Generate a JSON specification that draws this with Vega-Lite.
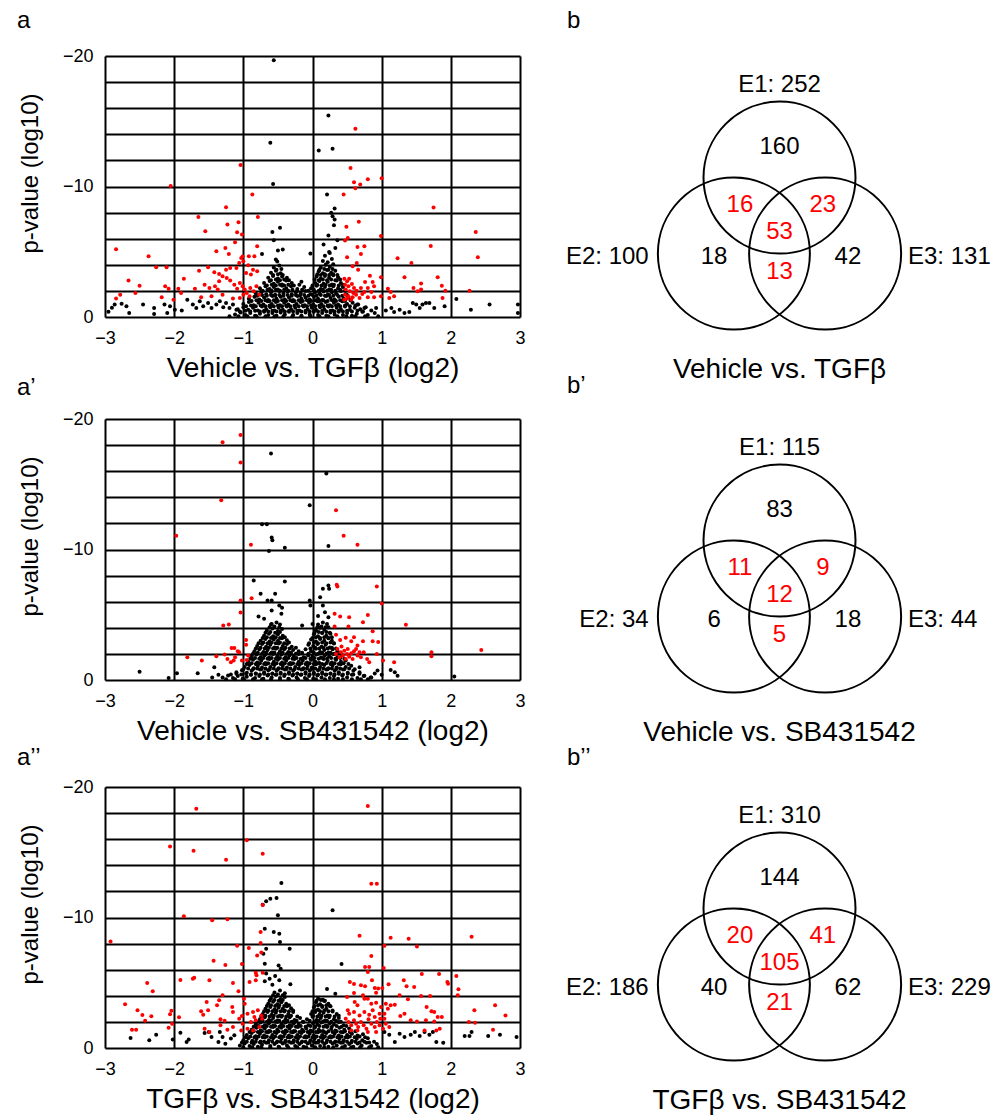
{
"$schema": "https://vega.github.io/schema/vega-lite/v6.json",
"padding": {"left": 17, "top": 9, "right": 0, "bottom": 0},
"autosize": {"type": "pad"},
"config": {
  "font": "Liberation Sans",
  "view": {"stroke": null},
  "axis": {"grid": true, "gridColor": "#000000", "gridWidth": 2, "gridOpacity": 1, "domain": false, "ticks": false, "labelFontSize": 18, "labelColor": "#000000", "titleColor": "#000000", "titleFontWeight": "normal", "labelFlush": false, "labelOverlap": false},
  "title": {"fontSize": 24, "fontWeight": "normal", "anchor": "start", "color": "#000000"}
},
"datasets": {
"venn_circles": [{"x": 0, "y": 0.5, "set": "E1"}, {"x": -0.6, "y": -0.5, "set": "E2"}, {"x": 0.6, "y": -0.5, "set": "E3"}],
"b_labels": [
{"label":"E1: 252","x":0,"y":1.724,"role":"set_top"},
{"label":"160","x":0,"y":0.908,"role":"unique"},
{"label":"16","x":-0.52,"y":0.145,"role":"shared"},
{"label":"23","x":0.57,"y":0.145,"role":"shared"},
{"label":"53","x":0,"y":-0.211,"role":"shared"},
{"label":"18","x":-0.86,"y":-0.539,"role":"unique"},
{"label":"42","x":0.9,"y":-0.539,"role":"unique"},
{"label":"13","x":0,"y":-0.737,"role":"shared"},
{"label":"E2: 100","x":-1.72,"y":-0.539,"role":"set_left"},
{"label":"E3: 131","x":1.69,"y":-0.539,"role":"set_right"},
{"label":"Vehicle vs. TGFβ","x":0,"y":-2.026,"role":"title"}],
"b2_labels": [
{"label":"E1: 115","x":0,"y":1.724,"role":"set_top"},
{"label":"83","x":0,"y":0.908,"role":"unique"},
{"label":"11","x":-0.52,"y":0.145,"role":"shared"},
{"label":"9","x":0.57,"y":0.145,"role":"shared"},
{"label":"12","x":0,"y":-0.211,"role":"shared"},
{"label":"6","x":-0.86,"y":-0.539,"role":"unique"},
{"label":"18","x":0.9,"y":-0.539,"role":"unique"},
{"label":"5","x":0,"y":-0.737,"role":"shared"},
{"label":"E2: 34","x":-1.72,"y":-0.539,"role":"set_left"},
{"label":"E3: 44","x":1.69,"y":-0.539,"role":"set_right"},
{"label":"Vehicle vs. SB431542","x":0,"y":-2.026,"role":"title"}],
"b3_labels": [
{"label":"E1: 310","x":0,"y":1.724,"role":"set_top"},
{"label":"144","x":0,"y":0.908,"role":"unique"},
{"label":"20","x":-0.52,"y":0.145,"role":"shared"},
{"label":"41","x":0.57,"y":0.145,"role":"shared"},
{"label":"105","x":0,"y":-0.211,"role":"shared"},
{"label":"40","x":-0.86,"y":-0.539,"role":"unique"},
{"label":"62","x":0.9,"y":-0.539,"role":"unique"},
{"label":"21","x":0,"y":-0.737,"role":"shared"},
{"label":"E2: 186","x":-1.72,"y":-0.539,"role":"set_left"},
{"label":"E3: 229","x":1.69,"y":-0.539,"role":"set_right"},
{"label":"TGFβ vs. SB431542","x":0,"y":-2.026,"role":"title"}],
"a_ns": [
{"x":-0.56,"y":-19.67},{"x":-0.61,"y":-13.35},{"x":-0.57,"y":-10.2},{"x":-0.58,"y":-6.52},{"x":-0.47,"y":-6.83},{"x":-0.56,"y":-5.88},{"x":-0.73,"y":-4.83},{"x":-0.5,"y":-5.09},{"x":-0.43,"y":-5.17},{"x":-0.53,"y":-4.4},{"x":-0.03,"y":-4.86},
{"x":-2.95,"y":-0.4},{"x":-2.9,"y":-0.7},{"x":-2.86,"y":-0.95},{"x":-2.76,"y":-1.02},{"x":-2.69,"y":-0.82},{"x":-2.65,"y":-0.31},{"x":-2.45,"y":-0.95},{"x":-2.29,"y":-0.69},{"x":-2.29,"y":-0.23},{"x":-2.14,"y":-0.95},{"x":-2.06,"y":-0.82},{"x":-2.1,"y":-0.3},{"x":-1.99,"y":-0.56},{"x":-1.89,"y":-0.49},{"x":-1.81,"y":-1.33},{"x":-1.73,"y":-0.95},{"x":-1.68,"y":-0.69},{"x":-1.63,"y":-1.2},{"x":-1.58,"y":-0.82},{"x":-1.51,"y":-1.07},{"x":-1.46,"y":-0.69},{"x":-1.39,"y":-0.95},{"x":-1.34,"y":-1.2},{"x":-1.29,"y":-0.74},{"x":-1.25,"y":-1.07},{"x":-1.2,"y":-0.69},{"x":-1.15,"y":-0.95},{"x":-1.1,"y":-0.56},
{"x":0.23,"y":-15.45},{"x":0.09,"y":-12.76},{"x":0.29,"y":-12.89},{"x":0.21,"y":-9.39},{"x":0.32,"y":-8.31},{"x":0.27,"y":-7.98},{"x":0.29,"y":-7.72},{"x":0.32,"y":-7.47},{"x":0.31,"y":-7.03},{"x":0.23,"y":-6.24},{"x":0.16,"y":-5.55},{"x":0.24,"y":-4.99},{"x":0.33,"y":-5.29},{"x":0.36,"y":-5.88},
{"x":0.65,"y":-0.95},{"x":0.75,"y":-0.69},{"x":0.85,"y":-0.49},{"x":0.92,"y":-0.69},{"x":1.06,"y":-0.49},{"x":1.14,"y":-0.69},{"x":1.18,"y":-0.38},{"x":1.26,"y":-0.56},{"x":1.33,"y":-0.31},{"x":1.4,"y":-0.38},{"x":1.45,"y":-1.07},{"x":1.5,"y":-0.95},{"x":1.55,"y":-0.69},{"x":1.59,"y":-0.95},{"x":1.64,"y":-1.07},{"x":1.69,"y":-1.07},{"x":1.76,"y":-0.69},{"x":1.91,"y":-0.82},{"x":2.08,"y":-1.38},{"x":2.29,"y":-0.56},{"x":2.56,"y":-0.95},{"x":2.97,"y":-0.95},{"x":2.97,"y":-0.31},
{"x":-1.12,"y":-0.2},{"x":-1.04,"y":-0.35},{"x":-0.97,"y":-0.15},{"x":-0.9,"y":-0.3},{"x":-0.83,"y":-0.1},{"x":-0.76,"y":-0.25},{"x":-0.7,"y":-0.4},{"x":-0.64,"y":-0.15},{"x":-0.58,"y":-0.3},{"x":-0.52,"y":-0.1},{"x":-0.46,"y":-0.35},{"x":-0.4,"y":-0.2},{"x":-0.34,"y":-0.4},{"x":-0.28,"y":-0.15},{"x":-0.22,"y":-0.3},{"x":-0.16,"y":-0.1},{"x":-0.1,"y":-0.35},{"x":-0.04,"y":-0.2},{"x":0.02,"y":-0.4},{"x":0.08,"y":-0.15},{"x":0.14,"y":-0.3},{"x":0.2,"y":-0.1},{"x":0.26,"y":-0.35},{"x":0.32,"y":-0.2},{"x":0.38,"y":-0.4},{"x":0.44,"y":-0.15},{"x":0.5,"y":-0.3},{"x":0.57,"y":-0.1},{"x":0.64,"y":-0.25},{"x":0.72,"y":-0.4},{"x":0.8,"y":-0.15},{"x":0.9,"y":-0.3},
{"x":-1.08,"y":-0.6},{"x":-1.0,"y":-0.75},{"x":-0.93,"y":-0.55},{"x":-0.86,"y":-0.7},{"x":-0.79,"y":-0.5},{"x":-0.73,"y":-0.8},{"x":-0.67,"y":-0.6},{"x":-0.61,"y":-0.75},{"x":-0.55,"y":-0.5},{"x":-0.49,"y":-0.7},{"x":-0.43,"y":-0.55},{"x":-0.37,"y":-0.8},{"x":-0.31,"y":-0.6},{"x":-0.25,"y":-0.7},{"x":-0.19,"y":-0.5},{"x":-0.13,"y":-0.8},{"x":-0.07,"y":-0.6},{"x":-0.01,"y":-0.7},{"x":0.05,"y":-0.55},{"x":0.11,"y":-0.75},{"x":0.17,"y":-0.6},{"x":0.23,"y":-0.8},{"x":0.29,"y":-0.5},{"x":0.35,"y":-0.7},{"x":0.41,"y":-0.6},{"x":0.47,"y":-0.8},{"x":0.54,"y":-0.55},{"x":0.61,"y":-0.7},{"x":0.69,"y":-0.6},{"x":0.77,"y":-0.75},
{"x":-1.0,"y":-1.0},{"x":-0.92,"y":-1.15},{"x":-0.85,"y":-0.9},{"x":-0.78,"y":-1.1},{"x":-0.71,"y":-0.95},{"x":-0.65,"y":-1.2},{"x":-0.59,"y":-1.0},{"x":-0.53,"y":-1.15},{"x":-0.47,"y":-0.9},{"x":-0.41,"y":-1.1},{"x":-0.35,"y":-0.95},{"x":-0.29,"y":-1.2},{"x":-0.23,"y":-1.0},{"x":-0.17,"y":-1.15},{"x":-0.11,"y":-0.9},{"x":-0.05,"y":-1.1},{"x":0.01,"y":-0.95},{"x":0.07,"y":-1.2},{"x":0.13,"y":-1.0},{"x":0.19,"y":-1.15},{"x":0.25,"y":-0.9},{"x":0.31,"y":-1.1},{"x":0.37,"y":-0.95},{"x":0.43,"y":-1.2},{"x":0.5,"y":-1.0},{"x":0.58,"y":-1.1},{"x":0.66,"y":-0.95},
{"x":-0.92,"y":-1.4},{"x":-0.84,"y":-1.55},{"x":-0.77,"y":-1.35},{"x":-0.7,"y":-1.5},{"x":-0.64,"y":-1.3},{"x":-0.58,"y":-1.6},{"x":-0.52,"y":-1.4},{"x":-0.46,"y":-1.55},{"x":-0.4,"y":-1.35},{"x":-0.34,"y":-1.5},{"x":-0.28,"y":-1.3},{"x":-0.22,"y":-1.6},{"x":-0.16,"y":-1.4},{"x":-0.1,"y":-1.5},{"x":-0.04,"y":-1.35},{"x":0.02,"y":-1.55},{"x":0.08,"y":-1.4},{"x":0.14,"y":-1.3},{"x":0.2,"y":-1.6},{"x":0.26,"y":-1.45},{"x":0.32,"y":-1.35},{"x":0.38,"y":-1.55},{"x":0.45,"y":-1.4},{"x":0.52,"y":-1.5},
{"x":-0.82,"y":-1.8},{"x":-0.74,"y":-1.95},{"x":-0.67,"y":-1.75},{"x":-0.6,"y":-1.9},{"x":-0.54,"y":-1.7},{"x":-0.48,"y":-2.0},{"x":-0.42,"y":-1.8},{"x":-0.36,"y":-1.95},{"x":-0.3,"y":-1.75},{"x":-0.24,"y":-1.9},{"x":-0.17,"y":-1.8},{"x":-0.1,"y":-2.0},{"x":-0.03,"y":-1.75},{"x":0.04,"y":-1.9},{"x":0.1,"y":-1.8},{"x":0.16,"y":-1.95},{"x":0.22,"y":-1.7},{"x":0.28,"y":-1.9},{"x":0.34,"y":-1.8},{"x":0.41,"y":-2.0},{"x":0.48,"y":-1.75},
{"x":-0.76,"y":-2.2},{"x":-0.68,"y":-2.35},{"x":-0.62,"y":-2.15},{"x":-0.56,"y":-2.3},{"x":-0.5,"y":-2.1},{"x":-0.44,"y":-2.4},{"x":-0.38,"y":-2.2},{"x":-0.31,"y":-2.35},{"x":-0.22,"y":-2.15},{"x":-0.12,"y":-2.3},{"x":-0.02,"y":-2.2},{"x":0.06,"y":-2.4},{"x":0.12,"y":-2.15},{"x":0.18,"y":-2.3},{"x":0.24,"y":-2.1},{"x":0.3,"y":-2.35},{"x":0.37,"y":-2.2},{"x":0.44,"y":-2.3},
{"x":-0.7,"y":-2.6},{"x":-0.62,"y":-2.75},{"x":-0.56,"y":-2.55},{"x":-0.5,"y":-2.7},{"x":-0.44,"y":-2.5},{"x":-0.38,"y":-2.8},{"x":-0.3,"y":-2.6},{"x":-0.16,"y":-2.7},{"x":0.04,"y":-2.6},{"x":0.1,"y":-2.75},{"x":0.16,"y":-2.55},{"x":0.22,"y":-2.7},{"x":0.28,"y":-2.5},{"x":0.35,"y":-2.8},{"x":0.41,"y":-2.6},
{"x":-0.64,"y":-3.0},{"x":-0.57,"y":-3.15},{"x":-0.5,"y":-2.95},{"x":-0.44,"y":-3.1},{"x":-0.37,"y":-3.0},{"x":0.06,"y":-3.1},{"x":0.12,"y":-2.95},{"x":0.18,"y":-3.15},{"x":0.24,"y":-3.0},{"x":0.3,"y":-3.2},{"x":0.37,"y":-3.05},
{"x":-0.6,"y":-3.4},{"x":-0.53,"y":-3.55},{"x":-0.46,"y":-3.35},{"x":0.09,"y":-3.5},{"x":0.15,"y":-3.35},{"x":0.21,"y":-3.6},{"x":0.27,"y":-3.4},{"x":0.33,"y":-3.55},
{"x":-0.56,"y":-3.8},{"x":-0.48,"y":-3.95},{"x":0.12,"y":-3.8},{"x":0.19,"y":-4.0},{"x":0.25,"y":-3.85},{"x":0.3,"y":-4.05},
{"x":-0.51,"y":-4.25},{"x":0.15,"y":-4.3},{"x":0.22,"y":-4.2},{"x":0.28,"y":-4.45},{"x":0.18,"y":-4.7},{"x":0.25,"y":-4.9},
{"x":-1.2,"y":-0.05},{"x":-1.07,"y":-0.05},{"x":-0.94,"y":-0.05},{"x":-0.81,"y":-0.05},{"x":-0.68,"y":-0.05},{"x":-0.55,"y":-0.05},{"x":-0.42,"y":-0.05},{"x":-0.29,"y":-0.05},{"x":-0.16,"y":-0.05},{"x":-0.03,"y":-0.05},{"x":0.1,"y":-0.05},{"x":0.23,"y":-0.05},{"x":0.36,"y":-0.05},{"x":0.49,"y":-0.05},{"x":0.62,"y":-0.05},{"x":0.76,"y":-0.05},{"x":0.95,"y":-0.05},
{"x":-1.05,"y":-0.42},{"x":-0.97,"y":-0.48},{"x":-0.9,"y":-0.42},{"x":-0.83,"y":-0.48},{"x":-0.76,"y":-0.42},{"x":-0.7,"y":-0.48},{"x":-0.64,"y":-0.42},{"x":-0.58,"y":-0.48},{"x":-0.52,"y":-0.42},{"x":-0.46,"y":-0.48},{"x":-0.4,"y":-0.42},{"x":-0.34,"y":-0.48},{"x":-0.28,"y":-0.42},{"x":-0.22,"y":-0.48},{"x":-0.16,"y":-0.42},{"x":-0.1,"y":-0.48},{"x":-0.04,"y":-0.42},{"x":0.02,"y":-0.48},{"x":0.08,"y":-0.42},{"x":0.14,"y":-0.48},{"x":0.2,"y":-0.42},{"x":0.26,"y":-0.48},{"x":0.32,"y":-0.42},{"x":0.38,"y":-0.48},{"x":0.44,"y":-0.42},{"x":0.5,"y":-0.48},{"x":0.57,"y":-0.42},{"x":0.65,"y":-0.48},{"x":0.73,"y":-0.42},
{"x":-0.96,"y":-0.82},{"x":-0.89,"y":-0.88},{"x":-0.82,"y":-0.82},{"x":-0.75,"y":-0.88},{"x":-0.68,"y":-0.82},{"x":-0.62,"y":-0.88},{"x":-0.56,"y":-0.82},{"x":-0.5,"y":-0.88},{"x":-0.44,"y":-0.82},{"x":-0.38,"y":-0.88},{"x":-0.32,"y":-0.82},{"x":-0.26,"y":-0.88},{"x":-0.2,"y":-0.82},{"x":-0.14,"y":-0.88},{"x":-0.08,"y":-0.82},{"x":-0.02,"y":-0.88},{"x":0.04,"y":-0.82},{"x":0.1,"y":-0.88},{"x":0.16,"y":-0.82},{"x":0.22,"y":-0.88},{"x":0.28,"y":-0.82},{"x":0.34,"y":-0.88},{"x":0.4,"y":-0.82},{"x":0.47,"y":-0.88},{"x":0.54,"y":-0.82},{"x":0.62,"y":-0.88},
{"x":-0.88,"y":-1.22},{"x":-0.81,"y":-1.28},{"x":-0.74,"y":-1.22},{"x":-0.68,"y":-1.28},{"x":-0.62,"y":-1.22},{"x":-0.56,"y":-1.28},{"x":-0.5,"y":-1.22},{"x":-0.44,"y":-1.28},{"x":-0.38,"y":-1.22},{"x":-0.32,"y":-1.28},{"x":-0.26,"y":-1.22},{"x":-0.2,"y":-1.28},{"x":-0.14,"y":-1.22},{"x":-0.08,"y":-1.28},{"x":-0.02,"y":-1.22},{"x":0.04,"y":-1.28},{"x":0.1,"y":-1.22},{"x":0.16,"y":-1.28},{"x":0.22,"y":-1.22},{"x":0.28,"y":-1.28},{"x":0.34,"y":-1.22},{"x":0.4,"y":-1.28},{"x":0.47,"y":-1.22},{"x":0.55,"y":-1.28},
{"x":-0.8,"y":-1.62},{"x":-0.73,"y":-1.68},{"x":-0.66,"y":-1.62},{"x":-0.6,"y":-1.68},{"x":-0.54,"y":-1.62},{"x":-0.48,"y":-1.68},{"x":-0.42,"y":-1.62},{"x":-0.36,"y":-1.68},{"x":-0.3,"y":-1.62},{"x":-0.24,"y":-1.68},{"x":-0.18,"y":-1.62},{"x":-0.12,"y":-1.68},{"x":-0.06,"y":-1.62},{"x":0.0,"y":-1.68},{"x":0.06,"y":-1.62},{"x":0.12,"y":-1.68},{"x":0.18,"y":-1.62},{"x":0.24,"y":-1.68},{"x":0.3,"y":-1.62},{"x":0.36,"y":-1.68},{"x":0.43,"y":-1.62},{"x":0.5,"y":-1.68},
{"x":-0.72,"y":-2.02},{"x":-0.65,"y":-2.08},{"x":-0.59,"y":-2.02},{"x":-0.53,"y":-2.08},{"x":-0.47,"y":-2.02},{"x":-0.41,"y":-2.08},{"x":-0.35,"y":-2.02},{"x":-0.29,"y":-2.08},{"x":-0.22,"y":-2.02},{"x":-0.15,"y":-2.08},{"x":-0.06,"y":-2.02},{"x":0.02,"y":-2.08},{"x":0.09,"y":-2.02},{"x":0.15,"y":-2.08},{"x":0.21,"y":-2.02},{"x":0.27,"y":-2.08},{"x":0.33,"y":-2.02},{"x":0.4,"y":-2.08},{"x":0.47,"y":-2.02},
{"x":-0.66,"y":-2.42},{"x":-0.59,"y":-2.48},{"x":-0.53,"y":-2.42},{"x":-0.47,"y":-2.48},{"x":-0.41,"y":-2.42},{"x":-0.35,"y":-2.48},{"x":-0.27,"y":-2.42},{"x":-0.19,"y":-2.48},{"x":0.0,"y":-2.42},{"x":0.07,"y":-2.48},{"x":0.13,"y":-2.42},{"x":0.19,"y":-2.48},{"x":0.25,"y":-2.42},{"x":0.31,"y":-2.48},{"x":0.38,"y":-2.42},{"x":0.44,"y":-2.48},
{"x":-0.6,"y":-2.82},{"x":-0.53,"y":-2.88},{"x":-0.47,"y":-2.82},{"x":-0.41,"y":-2.88},{"x":-0.34,"y":-2.82},{"x":0.03,"y":-2.88},{"x":0.09,"y":-2.82},{"x":0.15,"y":-2.88},{"x":0.21,"y":-2.82},{"x":0.27,"y":-2.88},{"x":0.33,"y":-2.82},{"x":0.4,"y":-2.88},
{"x":-0.57,"y":-3.22},{"x":-0.5,"y":-3.28},{"x":-0.43,"y":-3.22},{"x":0.07,"y":-3.28},{"x":0.12,"y":-3.22},{"x":0.18,"y":-3.28},{"x":0.24,"y":-3.22},{"x":0.3,"y":-3.28},{"x":0.36,"y":-3.22},
{"x":-0.52,"y":-3.62},{"x":-0.45,"y":-3.68},{"x":0.1,"y":-3.62},{"x":0.17,"y":-3.68},{"x":0.23,"y":-3.62},{"x":0.29,"y":-3.68}
],
"a_sig": [
{"x":-1.04,"y":-11.64},{"x":-2.05,"y":-10.03},{"x":-0.87,"y":-9.39},{"x":-1.25,"y":-8.41},{"x":-1.65,"y":-7.67},{"x":-0.79,"y":-7.67},{"x":-1.23,"y":-7.08},{"x":-1.07,"y":-7.26},{"x":-1.55,"y":-6.57},{"x":-1.09,"y":-6.5},{"x":-1.02,"y":-6.32},{"x":-1.12,"y":-5.73},{"x":-0.8,"y":-5.42},{"x":-2.84,"y":-5.19},{"x":-2.37,"y":-4.65},{"x":-1.39,"y":-5.04},{"x":-1.26,"y":-5.29},{"x":-1.21,"y":-4.83},{"x":-1.01,"y":-4.63},{"x":-0.92,"y":-4.65},{"x":-0.84,"y":-4.65},{"x":-2.26,"y":-3.81},{"x":-2.11,"y":-3.81},{"x":-1.64,"y":-3.55},{"x":-1.51,"y":-3.81},{"x":-1.42,"y":-3.43},{"x":-1.35,"y":-3.3},{"x":-1.25,"y":-3.63},{"x":-1.19,"y":-3.76},{"x":-1.1,"y":-3.76},{"x":-1.06,"y":-4.14},{"x":-1.03,"y":-4.53},{"x":-1.0,"y":-4.27},{"x":-0.93,"y":-3.96},{"x":-0.86,"y":-3.63},{"x":-0.8,"y":-3.5},{"x":-0.96,"y":-3.38},{"x":-0.89,"y":-3.25},{"x":-2.66,"y":-2.79},{"x":-2.5,"y":-2.4},{"x":-1.86,"y":-2.94},{"x":-2.13,"y":-2.35},{"x":-2.08,"y":-2.17},{"x":-1.94,"y":-2.17},{"x":-1.9,"y":-1.84},{"x":-1.7,"y":-2.17},{"x":-1.56,"y":-2.48},{"x":-1.49,"y":-2.23},{"x":-1.41,"y":-2.35},{"x":-1.37,"y":-2.1},{"x":-1.35,"y":-2.74},{"x":-1.3,"y":-3.12},{"x":-1.24,"y":-2.99},{"x":-1.19,"y":-2.79},{"x":-1.13,"y":-2.48},{"x":-1.09,"y":-2.17},{"x":-1.05,"y":-2.61},{"x":-1.01,"y":-2.35},{"x":-0.98,"y":-2.1},{"x":-0.95,"y":-1.84},{"x":-0.9,"y":-2.23},{"x":-0.85,"y":-1.97},{"x":-0.81,"y":-2.35},{"x":-0.77,"y":-1.71},{"x":-0.91,"y":-1.59},{"x":-1.0,"y":-1.71},{"x":-1.05,"y":-1.46},{"x":-2.84,"y":-1.41},{"x":-2.78,"y":-1.71},{"x":-2.56,"y":-1.84},{"x":-2.18,"y":-1.51},{"x":-2.01,"y":-1.33},{"x":-1.61,"y":-1.51},{"x":-1.46,"y":-1.59},{"x":-1.3,"y":-1.71},{"x":-1.15,"y":-1.41},
{"x":0.62,"y":-14.42},{"x":0.55,"y":-11.41},{"x":0.8,"y":-10.56},{"x":1.0,"y":-10.64},{"x":0.6,"y":-10.33},{"x":0.69,"y":-10.15},{"x":0.62,"y":-9.87},{"x":0.45,"y":-9.39},{"x":1.75,"y":-8.39},{"x":0.67,"y":-7.29},{"x":0.49,"y":-6.91},{"x":0.51,"y":-6.06},{"x":0.47,"y":-5.86},{"x":0.99,"y":-6.21},{"x":2.36,"y":-6.52},{"x":0.65,"y":-5.37},{"x":0.75,"y":-5.42},{"x":0.7,"y":-4.83},{"x":1.71,"y":-5.45},{"x":2.39,"y":-4.58},{"x":0.5,"y":-4.58},{"x":1.23,"y":-4.5},{"x":1.43,"y":-4.14},{"x":0.58,"y":-3.89},{"x":0.64,"y":-4.14},{"x":0.66,"y":-3.63},{"x":0.83,"y":-3.17},{"x":0.99,"y":-3.04},{"x":1.33,"y":-3.04},{"x":1.81,"y":-3.04},{"x":1.57,"y":-2.56},{"x":1.46,"y":-2.23},{"x":1.57,"y":-2.1},{"x":1.87,"y":-2.4},{"x":1.92,"y":-2.02},{"x":2.27,"y":-2.02},{"x":0.76,"y":-2.69},{"x":0.87,"y":-2.69},{"x":0.89,"y":-2.35},{"x":0.8,"y":-2.23},{"x":0.85,"y":-1.92},{"x":1.09,"y":-2.17},{"x":1.13,"y":-1.92},{"x":1.18,"y":-1.59},{"x":1.11,"y":-1.46},{"x":1.52,"y":-1.97},{"x":1.88,"y":-1.46},{"x":0.99,"y":-1.59},{"x":0.89,"y":-1.51},
{"x":0.46,"y":-2.94},{"x":0.5,"y":-2.74},{"x":0.53,"y":-2.94},{"x":0.47,"y":-2.48},{"x":0.52,"y":-2.35},{"x":0.57,"y":-2.53},{"x":0.6,"y":-2.23},{"x":0.48,"y":-2.1},{"x":0.54,"y":-1.97},{"x":0.59,"y":-1.84},{"x":0.64,"y":-2.02},{"x":0.47,"y":-1.71},{"x":0.52,"y":-1.59},{"x":0.58,"y":-1.51},{"x":0.63,"y":-1.71},{"x":0.68,"y":-1.46},{"x":0.72,"y":-1.76},{"x":0.5,"y":-1.41},{"x":0.56,"y":-1.33},{"x":0.7,"y":-2.23},{"x":0.75,"y":-1.92},{"x":0.46,"y":-1.33},{"x":0.8,"y":-1.51}
],
"a2_ns": [
{"x":-0.6,"y":-17.36},{"x":-0.04,"y":-13.39},{"x":-0.73,"y":-11.93},{"x":-0.66,"y":-11.93},{"x":-0.59,"y":-10.91},{"x":-0.58,"y":-10.7},{"x":-0.63,"y":-9.88},{"x":-0.4,"y":-10.14},{"x":-0.85,"y":-7.63},{"x":-0.4,"y":-7.55},{"x":-0.75,"y":-6.61},{"x":-0.54,"y":-6.61},{"x":-0.65,"y":-6.09},{"x":-0.59,"y":-6.09},{"x":-0.48,"y":-5.71},{"x":-0.44,"y":-5.53},{"x":-0.59,"y":-5.33},{"x":-0.45,"y":-5.07},{"x":-0.78,"y":-4.87},{"x":-0.7,"y":-4.69},{"x":-0.59,"y":-4.3},{"x":-0.47,"y":-4.25},{"x":-0.15,"y":-4.17},{"x":-0.04,"y":-6.09},{"x":-0.03,"y":-5.71},{"x":0.0,"y":-4.3},
{"x":0.2,"y":-15.83},{"x":0.23,"y":-10.27},{"x":0.15,"y":-6.99},{"x":0.23,"y":-7.25},{"x":0.24,"y":-6.99},{"x":0.11,"y":-6.35},{"x":0.15,"y":-5.71},{"x":0.18,"y":-5.2},{"x":0.23,"y":-4.81},{"x":0.08,"y":-4.9},
{"x":-2.5,"y":-0.64},{"x":-2.08,"y":-0.15},{"x":-1.96,"y":-0.51},{"x":-1.66,"y":-0.51},{"x":-1.42,"y":-0.97},{"x":-1.36,"y":-0.4},{"x":-1.45,"y":-0.2},
{"x":0.68,"y":-0.97},{"x":0.75,"y":-0.33},{"x":0.85,"y":-0.2},{"x":0.94,"y":-0.72},{"x":1.13,"y":-0.77},{"x":1.19,"y":-0.59},{"x":1.23,"y":-0.33},{"x":2.05,"y":-0.26},{"x":0.9,"y":-0.5},{"x":1.0,"y":-0.4},
{"x":-1.3,"y":-0.2},{"x":-1.22,"y":-0.35},{"x":-1.15,"y":-0.15},{"x":-1.08,"y":-0.3},{"x":-1.01,"y":-0.1},{"x":-0.95,"y":-0.25},{"x":-0.89,"y":-0.4},{"x":-0.83,"y":-0.15},{"x":-0.77,"y":-0.3},{"x":-0.71,"y":-0.1},{"x":-0.65,"y":-0.35},{"x":-0.59,"y":-0.2},{"x":-0.53,"y":-0.4},{"x":-0.47,"y":-0.15},{"x":-0.41,"y":-0.3},{"x":-0.35,"y":-0.1},{"x":-0.29,"y":-0.35},{"x":-0.23,"y":-0.2},{"x":-0.17,"y":-0.4},{"x":-0.11,"y":-0.15},{"x":-0.05,"y":-0.3},{"x":0.01,"y":-0.1},{"x":0.07,"y":-0.35},{"x":0.13,"y":-0.2},{"x":0.19,"y":-0.4},{"x":0.25,"y":-0.15},{"x":0.31,"y":-0.3},{"x":0.37,"y":-0.1},{"x":0.43,"y":-0.35},{"x":0.5,"y":-0.2},{"x":0.57,"y":-0.4},{"x":0.65,"y":-0.15},{"x":0.74,"y":-0.3},{"x":0.84,"y":-0.2},
{"x":-1.1,"y":-0.6},{"x":-1.02,"y":-0.75},{"x":-0.95,"y":-0.55},{"x":-0.88,"y":-0.7},{"x":-0.82,"y":-0.5},{"x":-0.76,"y":-0.8},{"x":-0.7,"y":-0.6},{"x":-0.64,"y":-0.75},{"x":-0.58,"y":-0.5},{"x":-0.52,"y":-0.7},{"x":-0.46,"y":-0.55},{"x":-0.4,"y":-0.8},{"x":-0.34,"y":-0.6},{"x":-0.28,"y":-0.7},{"x":-0.22,"y":-0.5},{"x":-0.16,"y":-0.8},{"x":-0.1,"y":-0.6},{"x":-0.04,"y":-0.7},{"x":0.02,"y":-0.55},{"x":0.08,"y":-0.75},{"x":0.14,"y":-0.6},{"x":0.2,"y":-0.8},{"x":0.26,"y":-0.5},{"x":0.32,"y":-0.7},{"x":0.38,"y":-0.6},{"x":0.44,"y":-0.8},{"x":0.51,"y":-0.55},{"x":0.59,"y":-0.7},{"x":0.68,"y":-0.6},
{"x":-0.98,"y":-1.0},{"x":-0.91,"y":-1.15},{"x":-0.85,"y":-0.9},{"x":-0.79,"y":-1.1},{"x":-0.73,"y":-0.95},{"x":-0.67,"y":-1.2},{"x":-0.61,"y":-1.0},{"x":-0.55,"y":-1.15},{"x":-0.49,"y":-0.9},{"x":-0.43,"y":-1.1},{"x":-0.37,"y":-0.95},{"x":-0.31,"y":-1.2},{"x":-0.25,"y":-1.0},{"x":-0.19,"y":-1.15},{"x":-0.13,"y":-0.9},{"x":-0.07,"y":-1.1},{"x":-0.01,"y":-0.95},{"x":0.05,"y":-1.2},{"x":0.11,"y":-1.0},{"x":0.17,"y":-1.15},{"x":0.23,"y":-0.9},{"x":0.29,"y":-1.1},{"x":0.35,"y":-0.95},{"x":0.41,"y":-1.2},{"x":0.48,"y":-1.0},{"x":0.56,"y":-1.1},
{"x":-0.93,"y":-1.4},{"x":-0.86,"y":-1.55},{"x":-0.8,"y":-1.35},{"x":-0.74,"y":-1.5},{"x":-0.68,"y":-1.3},{"x":-0.62,"y":-1.6},{"x":-0.56,"y":-1.4},{"x":-0.5,"y":-1.55},{"x":-0.44,"y":-1.35},{"x":-0.38,"y":-1.5},{"x":-0.32,"y":-1.3},{"x":-0.26,"y":-1.6},{"x":-0.2,"y":-1.4},{"x":-0.14,"y":-1.5},{"x":-0.08,"y":-1.35},{"x":-0.02,"y":-1.55},{"x":0.04,"y":-1.4},{"x":0.1,"y":-1.3},{"x":0.16,"y":-1.6},{"x":0.22,"y":-1.45},{"x":0.28,"y":-1.35},{"x":0.34,"y":-1.55},{"x":0.41,"y":-1.4},{"x":0.48,"y":-1.5},
{"x":-0.88,"y":-1.8},{"x":-0.81,"y":-1.95},{"x":-0.75,"y":-1.75},{"x":-0.69,"y":-1.9},{"x":-0.63,"y":-1.7},{"x":-0.57,"y":-2.0},{"x":-0.51,"y":-1.8},{"x":-0.45,"y":-1.95},{"x":-0.39,"y":-1.75},{"x":-0.33,"y":-1.9},{"x":-0.27,"y":-1.8},{"x":-0.2,"y":-2.0},{"x":-0.13,"y":-1.75},{"x":-0.06,"y":-1.9},{"x":0.0,"y":-1.8},{"x":0.06,"y":-1.95},{"x":0.12,"y":-1.7},{"x":0.18,"y":-1.9},{"x":0.24,"y":-1.8},{"x":0.3,"y":-2.0},{"x":0.36,"y":-1.75},{"x":0.43,"y":-1.9},
{"x":-0.84,"y":-2.2},{"x":-0.77,"y":-2.35},{"x":-0.71,"y":-2.15},{"x":-0.65,"y":-2.3},{"x":-0.59,"y":-2.1},{"x":-0.53,"y":-2.4},{"x":-0.47,"y":-2.2},{"x":-0.41,"y":-2.35},{"x":-0.35,"y":-2.15},{"x":-0.28,"y":-2.3},{"x":-0.2,"y":-2.2},{"x":-0.1,"y":-2.35},{"x":-0.02,"y":-2.2},{"x":0.05,"y":-2.4},{"x":0.11,"y":-2.15},{"x":0.17,"y":-2.3},{"x":0.23,"y":-2.1},{"x":0.29,"y":-2.35},{"x":0.36,"y":-2.2},
{"x":-0.8,"y":-2.6},{"x":-0.73,"y":-2.75},{"x":-0.67,"y":-2.55},{"x":-0.61,"y":-2.7},{"x":-0.55,"y":-2.5},{"x":-0.49,"y":-2.8},{"x":-0.43,"y":-2.6},{"x":-0.37,"y":-2.75},{"x":-0.3,"y":-2.55},{"x":-0.06,"y":-2.7},{"x":0.01,"y":-2.6},{"x":0.07,"y":-2.75},{"x":0.13,"y":-2.55},{"x":0.19,"y":-2.7},{"x":0.25,"y":-2.5},{"x":0.31,"y":-2.8},
{"x":-0.75,"y":-3.0},{"x":-0.68,"y":-3.15},{"x":-0.62,"y":-2.95},{"x":-0.56,"y":-3.1},{"x":-0.5,"y":-3.0},{"x":-0.44,"y":-3.2},{"x":-0.37,"y":-3.05},{"x":-0.02,"y":-3.1},{"x":0.05,"y":-2.95},{"x":0.11,"y":-3.15},{"x":0.17,"y":-3.0},{"x":0.23,"y":-3.2},{"x":0.28,"y":-3.0},
{"x":-0.7,"y":-3.4},{"x":-0.63,"y":-3.55},{"x":-0.57,"y":-3.35},{"x":-0.5,"y":-3.5},{"x":-0.43,"y":-3.4},{"x":0.02,"y":-3.5},{"x":0.08,"y":-3.35},{"x":0.14,"y":-3.6},{"x":0.2,"y":-3.4},{"x":0.26,"y":-3.55},
{"x":-0.66,"y":-3.8},{"x":-0.58,"y":-3.95},{"x":-0.5,"y":-3.75},{"x":-0.44,"y":-3.9},{"x":0.05,"y":-3.8},{"x":0.11,"y":-4.0},{"x":0.17,"y":-3.85},{"x":0.23,"y":-4.05},
{"x":-0.6,"y":-4.25},{"x":-0.52,"y":-4.4},{"x":0.08,"y":-4.25},{"x":0.15,"y":-4.4},{"x":0.21,"y":-4.3},
{"x":-1.25,"y":-0.05},{"x":-1.12,"y":-0.05},{"x":-0.99,"y":-0.05},{"x":-0.86,"y":-0.05},{"x":-0.73,"y":-0.05},{"x":-0.6,"y":-0.05},{"x":-0.47,"y":-0.05},{"x":-0.34,"y":-0.05},{"x":-0.21,"y":-0.05},{"x":-0.08,"y":-0.05},{"x":0.05,"y":-0.05},{"x":0.18,"y":-0.05},{"x":0.31,"y":-0.05},{"x":0.44,"y":-0.05},{"x":0.57,"y":-0.05},{"x":0.7,"y":-0.05},{"x":0.8,"y":-0.05},
{"x":-1.18,"y":-0.42},{"x":-1.1,"y":-0.48},{"x":-1.03,"y":-0.42},{"x":-0.96,"y":-0.48},{"x":-0.89,"y":-0.42},{"x":-0.82,"y":-0.48},{"x":-0.76,"y":-0.42},{"x":-0.7,"y":-0.48},{"x":-0.64,"y":-0.42},{"x":-0.58,"y":-0.48},{"x":-0.52,"y":-0.42},{"x":-0.46,"y":-0.48},{"x":-0.4,"y":-0.42},{"x":-0.34,"y":-0.48},{"x":-0.28,"y":-0.42},{"x":-0.22,"y":-0.48},{"x":-0.16,"y":-0.42},{"x":-0.1,"y":-0.48},{"x":-0.04,"y":-0.42},{"x":0.02,"y":-0.48},{"x":0.08,"y":-0.42},{"x":0.14,"y":-0.48},{"x":0.2,"y":-0.42},{"x":0.26,"y":-0.48},{"x":0.32,"y":-0.42},{"x":0.38,"y":-0.48},{"x":0.44,"y":-0.42},{"x":0.51,"y":-0.48},{"x":0.59,"y":-0.42},{"x":0.68,"y":-0.48},
{"x":-1.0,"y":-0.82},{"x":-0.93,"y":-0.88},{"x":-0.86,"y":-0.82},{"x":-0.8,"y":-0.88},{"x":-0.74,"y":-0.82},{"x":-0.68,"y":-0.88},{"x":-0.62,"y":-0.82},{"x":-0.56,"y":-0.88},{"x":-0.5,"y":-0.82},{"x":-0.44,"y":-0.88},{"x":-0.38,"y":-0.82},{"x":-0.32,"y":-0.88},{"x":-0.26,"y":-0.82},{"x":-0.2,"y":-0.88},{"x":-0.14,"y":-0.82},{"x":-0.08,"y":-0.88},{"x":-0.02,"y":-0.82},{"x":0.04,"y":-0.88},{"x":0.1,"y":-0.82},{"x":0.16,"y":-0.88},{"x":0.22,"y":-0.82},{"x":0.28,"y":-0.88},{"x":0.34,"y":-0.82},{"x":0.4,"y":-0.88},{"x":0.46,"y":-0.82},{"x":0.53,"y":-0.88},{"x":0.61,"y":-0.82},
{"x":-0.95,"y":-1.22},{"x":-0.88,"y":-1.28},{"x":-0.82,"y":-1.22},{"x":-0.76,"y":-1.28},{"x":-0.7,"y":-1.22},{"x":-0.64,"y":-1.28},{"x":-0.58,"y":-1.22},{"x":-0.52,"y":-1.28},{"x":-0.46,"y":-1.22},{"x":-0.4,"y":-1.28},{"x":-0.34,"y":-1.22},{"x":-0.28,"y":-1.28},{"x":-0.22,"y":-1.22},{"x":-0.16,"y":-1.28},{"x":-0.1,"y":-1.22},{"x":-0.04,"y":-1.28},{"x":0.02,"y":-1.22},{"x":0.08,"y":-1.28},{"x":0.14,"y":-1.22},{"x":0.2,"y":-1.28},{"x":0.26,"y":-1.22},{"x":0.32,"y":-1.28},{"x":0.38,"y":-1.22},{"x":0.45,"y":-1.28},{"x":0.52,"y":-1.22},
{"x":-0.9,"y":-1.62},{"x":-0.83,"y":-1.68},{"x":-0.77,"y":-1.62},{"x":-0.71,"y":-1.68},{"x":-0.65,"y":-1.62},{"x":-0.59,"y":-1.68},{"x":-0.53,"y":-1.62},{"x":-0.47,"y":-1.68},{"x":-0.41,"y":-1.62},{"x":-0.35,"y":-1.68},{"x":-0.29,"y":-1.62},{"x":-0.23,"y":-1.68},{"x":-0.17,"y":-1.62},{"x":-0.1,"y":-1.68},{"x":-0.03,"y":-1.62},{"x":0.03,"y":-1.68},{"x":0.09,"y":-1.62},{"x":0.15,"y":-1.68},{"x":0.21,"y":-1.62},{"x":0.27,"y":-1.68},{"x":0.33,"y":-1.62},{"x":0.4,"y":-1.68},{"x":0.46,"y":-1.62},
{"x":-0.86,"y":-2.02},{"x":-0.79,"y":-2.08},{"x":-0.73,"y":-2.02},{"x":-0.67,"y":-2.08},{"x":-0.61,"y":-2.02},{"x":-0.55,"y":-2.08},{"x":-0.49,"y":-2.02},{"x":-0.43,"y":-2.08},{"x":-0.37,"y":-2.02},{"x":-0.31,"y":-2.08},{"x":-0.24,"y":-2.02},{"x":-0.15,"y":-2.08},{"x":-0.06,"y":-2.02},{"x":0.02,"y":-2.08},{"x":0.08,"y":-2.02},{"x":0.14,"y":-2.08},{"x":0.2,"y":-2.02},{"x":0.26,"y":-2.08},{"x":0.32,"y":-2.02},{"x":0.39,"y":-2.08},
{"x":-0.82,"y":-2.42},{"x":-0.75,"y":-2.48},{"x":-0.69,"y":-2.42},{"x":-0.63,"y":-2.48},{"x":-0.57,"y":-2.42},{"x":-0.51,"y":-2.48},{"x":-0.45,"y":-2.42},{"x":-0.39,"y":-2.48},{"x":-0.33,"y":-2.42},{"x":-0.24,"y":-2.48},{"x":-0.03,"y":-2.42},{"x":0.04,"y":-2.48},{"x":0.1,"y":-2.42},{"x":0.16,"y":-2.48},{"x":0.22,"y":-2.42},{"x":0.28,"y":-2.48},{"x":0.34,"y":-2.42},
{"x":-0.78,"y":-2.82},{"x":-0.71,"y":-2.88},{"x":-0.65,"y":-2.82},{"x":-0.59,"y":-2.88},{"x":-0.53,"y":-2.82},{"x":-0.47,"y":-2.88},{"x":-0.41,"y":-2.82},{"x":-0.34,"y":-2.88},{"x":-0.05,"y":-2.82},{"x":0.02,"y":-2.88},{"x":0.08,"y":-2.82},{"x":0.14,"y":-2.88},{"x":0.2,"y":-2.82},{"x":0.26,"y":-2.88},{"x":0.31,"y":-2.82},
{"x":-0.72,"y":-3.22},{"x":-0.66,"y":-3.28},{"x":-0.6,"y":-3.22},{"x":-0.53,"y":-3.28},{"x":-0.47,"y":-3.22},{"x":-0.4,"y":-3.28},{"x":0.0,"y":-3.22},{"x":0.05,"y":-3.28},{"x":0.11,"y":-3.22},{"x":0.17,"y":-3.28},{"x":0.23,"y":-3.22},{"x":0.28,"y":-3.28},
{"x":-0.68,"y":-3.62},{"x":-0.61,"y":-3.68},{"x":-0.54,"y":-3.62},{"x":-0.47,"y":-3.68},{"x":0.03,"y":-3.62},{"x":0.09,"y":-3.68},{"x":0.14,"y":-3.62},{"x":0.2,"y":-3.68},{"x":0.25,"y":-3.62},
{"x":-0.62,"y":-4.05},{"x":-0.55,"y":-4.1},{"x":-0.48,"y":-4.05},{"x":0.07,"y":-4.05},{"x":0.13,"y":-4.1},{"x":0.19,"y":-4.05}
],
"a2_sig": [
{"x":-1.04,"y":-18.77},{"x":-1.3,"y":-18.21},{"x":-1.04,"y":-16.67},{"x":-1.32,"y":-13.78},{"x":-1.97,"y":-11.06},{"x":-0.89,"y":-10.37},{"x":-0.88,"y":-6.27},{"x":-1.04,"y":-6.09},{"x":-1.04,"y":-5.17},{"x":-1.29,"y":-4.17},{"x":-1.21,"y":-4.25},{"x":-0.96,"y":-3.07},{"x":-0.96,"y":-2.71},{"x":-1.17,"y":-2.46},{"x":-1.13,"y":-2.46},{"x":-1.08,"y":-2.2},{"x":-1.06,"y":-2.13},{"x":-1.81,"y":-1.74},{"x":-1.6,"y":-1.49},{"x":-1.39,"y":-1.82},{"x":-1.27,"y":-1.95},{"x":-1.23,"y":-1.61},{"x":-1.18,"y":-1.36},{"x":-1.14,"y":-1.49},{"x":-1.12,"y":-1.74},{"x":-1.02,"y":-1.49},{"x":-0.95,"y":-1.54},{"x":-0.93,"y":-1.87},
{"x":0.34,"y":-13.01},{"x":0.45,"y":-11.06},{"x":0.65,"y":-10.37},{"x":0.35,"y":-7.3},{"x":0.36,"y":-7.17},{"x":0.93,"y":-7.17},{"x":1.0,"y":-5.86},{"x":0.32,"y":-5.07},{"x":0.4,"y":-4.87},{"x":0.53,"y":-4.81},{"x":0.8,"y":-4.99},{"x":0.73,"y":-4.43},{"x":0.52,"y":-4.1},{"x":0.32,"y":-4.1},{"x":1.35,"y":-4.23},{"x":0.87,"y":-3.74},{"x":0.95,"y":-2.92},{"x":0.87,"y":-2.97},{"x":0.34,"y":-3.46},{"x":0.4,"y":-3.07},{"x":0.48,"y":-3.23},{"x":0.56,"y":-2.97},{"x":0.6,"y":-3.28},{"x":0.65,"y":-2.64},{"x":0.73,"y":-2.97},{"x":0.74,"y":-2.13},{"x":0.93,"y":-2.0},{"x":1.02,"y":-1.49},{"x":1.18,"y":-1.36},{"x":0.79,"y":-1.61},{"x":0.82,"y":-1.36},{"x":1.72,"y":-2.13},{"x":1.72,"y":-1.82},{"x":2.44,"y":-2.3},
{"x":0.36,"y":-2.38},{"x":0.41,"y":-2.13},{"x":0.46,"y":-2.25},{"x":0.51,"y":-2.38},{"x":0.56,"y":-2.05},{"x":0.6,"y":-2.2},{"x":0.65,"y":-1.87},{"x":0.39,"y":-1.74},{"x":0.44,"y":-1.87},{"x":0.48,"y":-1.61},{"x":0.53,"y":-1.79},{"x":0.58,"y":-1.61},{"x":0.7,"y":-1.74},{"x":0.34,"y":-2.0},{"x":0.42,"y":-2.56},{"x":0.5,"y":-2.0},{"x":0.63,"y":-2.38},{"x":0.68,"y":-2.13}
],
"a3_ns": [
{"x":-0.45,"y":-12.64},{"x":-0.61,"y":-11.44},{"x":-0.67,"y":-11.24},{"x":-0.52,"y":-11.49},{"x":-0.72,"y":-10.98},{"x":-0.5,"y":-10.17},{"x":-0.69,"y":-9.14},{"x":-0.56,"y":-8.89},{"x":-0.48,"y":-8.76},{"x":-0.47,"y":-8.12},{"x":-0.33,"y":-7.61},{"x":-0.67,"y":-7.61},{"x":-0.71,"y":-7.23},{"x":-0.49,"y":-6.33},{"x":-0.46,"y":-6.08},{"x":-0.54,"y":-5.52},{"x":-0.69,"y":-6.46},{"x":-0.67,"y":-5.7},{"x":-0.69,"y":-5.11},{"x":-0.62,"y":-5.31},{"x":-0.58,"y":-4.85},{"x":-0.48,"y":-5.19},{"x":-0.32,"y":-4.88},
{"x":-2.63,"y":-0.77},{"x":-2.36,"y":-0.59},{"x":-2.26,"y":-1.02},{"x":-2.02,"y":-0.66},{"x":-1.91,"y":-1.17},{"x":-1.82,"y":-0.46},{"x":-1.79,"y":-0.66},{"x":-1.56,"y":-1.15},{"x":-1.5,"y":-1.23},{"x":-1.46,"y":-0.84},{"x":-1.34,"y":-1.23},{"x":-1.36,"y":-0.46},{"x":-1.3,"y":-0.84},{"x":-1.26,"y":-0.33},{"x":-1.18,"y":-0.72},{"x":-1.13,"y":-0.97},
{"x":0.29,"y":-10.55},{"x":0.42,"y":-6.44},{"x":0.21,"y":-4.52},{"x":0.33,"y":-4.16},
{"x":1.04,"y":-1.23},{"x":1.11,"y":-1.02},{"x":1.19,"y":-0.46},{"x":1.26,"y":-1.1},{"x":1.33,"y":-0.84},{"x":1.42,"y":-1.02},{"x":1.48,"y":-1.23},{"x":1.55,"y":-0.92},{"x":1.62,"y":-1.23},{"x":1.69,"y":-1.02},{"x":1.74,"y":-1.23},{"x":1.79,"y":-0.46},{"x":1.89,"y":-0.41},{"x":2.2,"y":-0.92},{"x":2.27,"y":-0.92},{"x":2.3,"y":-1.23},{"x":2.54,"y":-0.92},{"x":2.71,"y":-1.02},{"x":2.95,"y":-0.84},
{"x":-1.05,"y":-0.2},{"x":-0.98,"y":-0.35},{"x":-0.91,"y":-0.15},{"x":-0.85,"y":-0.3},{"x":-0.79,"y":-0.1},{"x":-0.73,"y":-0.25},{"x":-0.67,"y":-0.4},{"x":-0.61,"y":-0.15},{"x":-0.55,"y":-0.3},{"x":-0.49,"y":-0.1},{"x":-0.43,"y":-0.35},{"x":-0.37,"y":-0.2},{"x":-0.31,"y":-0.4},{"x":-0.25,"y":-0.15},{"x":-0.19,"y":-0.3},{"x":-0.13,"y":-0.1},{"x":-0.07,"y":-0.35},{"x":-0.01,"y":-0.2},{"x":0.05,"y":-0.4},{"x":0.11,"y":-0.15},{"x":0.17,"y":-0.3},{"x":0.23,"y":-0.1},{"x":0.29,"y":-0.35},{"x":0.35,"y":-0.2},{"x":0.41,"y":-0.4},{"x":0.47,"y":-0.15},{"x":0.53,"y":-0.3},{"x":0.59,"y":-0.1},{"x":0.65,"y":-0.35},{"x":0.71,"y":-0.2},{"x":0.78,"y":-0.4},{"x":0.85,"y":-0.15},{"x":0.93,"y":-0.3},
{"x":-1.0,"y":-0.6},{"x":-0.93,"y":-0.75},{"x":-0.87,"y":-0.55},{"x":-0.81,"y":-0.7},{"x":-0.75,"y":-0.5},{"x":-0.69,"y":-0.8},{"x":-0.63,"y":-0.6},{"x":-0.57,"y":-0.75},{"x":-0.51,"y":-0.5},{"x":-0.45,"y":-0.7},{"x":-0.39,"y":-0.55},{"x":-0.33,"y":-0.8},{"x":-0.27,"y":-0.6},{"x":-0.21,"y":-0.7},{"x":-0.15,"y":-0.5},{"x":-0.09,"y":-0.8},{"x":-0.03,"y":-0.6},{"x":0.03,"y":-0.7},{"x":0.09,"y":-0.55},{"x":0.15,"y":-0.75},{"x":0.21,"y":-0.6},{"x":0.27,"y":-0.8},{"x":0.33,"y":-0.5},{"x":0.39,"y":-0.7},{"x":0.45,"y":-0.6},{"x":0.51,"y":-0.8},{"x":0.57,"y":-0.55},{"x":0.64,"y":-0.7},{"x":0.72,"y":-0.6},{"x":0.8,"y":-0.75},
{"x":-0.95,"y":-1.0},{"x":-0.88,"y":-1.15},{"x":-0.82,"y":-0.9},{"x":-0.76,"y":-1.1},{"x":-0.7,"y":-0.95},{"x":-0.64,"y":-1.2},{"x":-0.58,"y":-1.0},{"x":-0.52,"y":-1.15},{"x":-0.46,"y":-0.9},{"x":-0.4,"y":-1.1},{"x":-0.34,"y":-0.95},{"x":-0.28,"y":-1.2},{"x":-0.22,"y":-1.0},{"x":-0.16,"y":-1.15},{"x":-0.1,"y":-0.9},{"x":-0.04,"y":-1.1},{"x":0.02,"y":-0.95},{"x":0.08,"y":-1.2},{"x":0.14,"y":-1.0},{"x":0.2,"y":-1.15},{"x":0.26,"y":-0.9},{"x":0.32,"y":-1.1},{"x":0.38,"y":-0.95},{"x":0.44,"y":-1.2},{"x":0.5,"y":-1.0},{"x":0.57,"y":-1.1},{"x":0.65,"y":-0.95},{"x":0.73,"y":-1.05},
{"x":-0.88,"y":-1.4},{"x":-0.81,"y":-1.55},{"x":-0.75,"y":-1.35},{"x":-0.69,"y":-1.5},{"x":-0.63,"y":-1.3},{"x":-0.57,"y":-1.6},{"x":-0.51,"y":-1.4},{"x":-0.45,"y":-1.55},{"x":-0.39,"y":-1.35},{"x":-0.33,"y":-1.5},{"x":-0.27,"y":-1.3},{"x":-0.21,"y":-1.6},{"x":-0.15,"y":-1.4},{"x":-0.09,"y":-1.5},{"x":-0.03,"y":-1.35},{"x":0.03,"y":-1.55},{"x":0.09,"y":-1.4},{"x":0.15,"y":-1.3},{"x":0.21,"y":-1.6},{"x":0.27,"y":-1.45},{"x":0.33,"y":-1.35},{"x":0.39,"y":-1.55},{"x":0.46,"y":-1.4},{"x":0.53,"y":-1.5},
{"x":-0.82,"y":-1.8},{"x":-0.75,"y":-1.95},{"x":-0.69,"y":-1.75},{"x":-0.63,"y":-1.9},{"x":-0.57,"y":-1.7},{"x":-0.51,"y":-2.0},{"x":-0.45,"y":-1.8},{"x":-0.39,"y":-1.95},{"x":-0.33,"y":-1.75},{"x":-0.27,"y":-1.9},{"x":-0.2,"y":-1.8},{"x":-0.13,"y":-2.0},{"x":-0.06,"y":-1.75},{"x":0.01,"y":-1.9},{"x":0.07,"y":-1.8},{"x":0.13,"y":-1.95},{"x":0.19,"y":-1.7},{"x":0.25,"y":-1.9},{"x":0.31,"y":-1.8},{"x":0.38,"y":-2.0},{"x":0.45,"y":-1.75},
{"x":-0.76,"y":-2.2},{"x":-0.69,"y":-2.35},{"x":-0.63,"y":-2.15},{"x":-0.57,"y":-2.3},{"x":-0.51,"y":-2.1},{"x":-0.45,"y":-2.4},{"x":-0.39,"y":-2.2},{"x":-0.33,"y":-2.35},{"x":-0.26,"y":-2.15},{"x":-0.18,"y":-2.3},{"x":-0.08,"y":-2.2},{"x":0.0,"y":-2.4},{"x":0.06,"y":-2.15},{"x":0.12,"y":-2.3},{"x":0.18,"y":-2.1},{"x":0.24,"y":-2.35},{"x":0.31,"y":-2.2},{"x":0.38,"y":-2.3},
{"x":-0.72,"y":-2.6},{"x":-0.65,"y":-2.75},{"x":-0.59,"y":-2.55},{"x":-0.53,"y":-2.7},{"x":-0.47,"y":-2.5},{"x":-0.41,"y":-2.8},{"x":-0.35,"y":-2.6},{"x":-0.28,"y":-2.75},{"x":-0.02,"y":-2.6},{"x":0.04,"y":-2.75},{"x":0.1,"y":-2.55},{"x":0.16,"y":-2.7},{"x":0.22,"y":-2.5},{"x":0.29,"y":-2.8},{"x":0.35,"y":-2.6},
{"x":-0.68,"y":-3.0},{"x":-0.61,"y":-3.15},{"x":-0.55,"y":-2.95},{"x":-0.49,"y":-3.1},{"x":-0.43,"y":-3.0},{"x":-0.37,"y":-3.2},{"x":-0.31,"y":-3.05},{"x":0.02,"y":-3.1},{"x":0.08,"y":-2.95},{"x":0.14,"y":-3.15},{"x":0.2,"y":-3.0},{"x":0.26,"y":-3.2},
{"x":-0.64,"y":-3.4},{"x":-0.57,"y":-3.55},{"x":-0.51,"y":-3.35},{"x":-0.45,"y":-3.5},{"x":-0.38,"y":-3.4},{"x":0.05,"y":-3.5},{"x":0.11,"y":-3.35},{"x":0.17,"y":-3.6},{"x":0.23,"y":-3.4},
{"x":-0.6,"y":-3.8},{"x":-0.53,"y":-3.95},{"x":-0.46,"y":-3.75},{"x":-0.4,"y":-3.9},{"x":0.08,"y":-3.8},{"x":0.15,"y":-3.7},
{"x":-0.55,"y":-4.25},{"x":-0.47,"y":-4.4},{"x":-0.4,"y":-4.2},
{"x":-1.0,"y":-0.05},{"x":-0.87,"y":-0.05},{"x":-0.74,"y":-0.05},{"x":-0.61,"y":-0.05},{"x":-0.48,"y":-0.05},{"x":-0.35,"y":-0.05},{"x":-0.22,"y":-0.05},{"x":-0.09,"y":-0.05},{"x":0.04,"y":-0.05},{"x":0.17,"y":-0.05},{"x":0.3,"y":-0.05},{"x":0.43,"y":-0.05},{"x":0.56,"y":-0.05},{"x":0.69,"y":-0.05},{"x":0.82,"y":-0.05},{"x":0.95,"y":-0.05},
{"x":-1.02,"y":-0.42},{"x":-0.95,"y":-0.48},{"x":-0.88,"y":-0.42},{"x":-0.82,"y":-0.48},{"x":-0.76,"y":-0.42},{"x":-0.7,"y":-0.48},{"x":-0.64,"y":-0.42},{"x":-0.58,"y":-0.48},{"x":-0.52,"y":-0.42},{"x":-0.46,"y":-0.48},{"x":-0.4,"y":-0.42},{"x":-0.34,"y":-0.48},{"x":-0.28,"y":-0.42},{"x":-0.22,"y":-0.48},{"x":-0.16,"y":-0.42},{"x":-0.1,"y":-0.48},{"x":-0.04,"y":-0.42},{"x":0.02,"y":-0.48},{"x":0.08,"y":-0.42},{"x":0.14,"y":-0.48},{"x":0.2,"y":-0.42},{"x":0.26,"y":-0.48},{"x":0.32,"y":-0.42},{"x":0.38,"y":-0.48},{"x":0.44,"y":-0.42},{"x":0.5,"y":-0.48},{"x":0.56,"y":-0.42},{"x":0.62,"y":-0.48},{"x":0.68,"y":-0.42},{"x":0.75,"y":-0.48},{"x":0.82,"y":-0.42},{"x":0.89,"y":-0.48},
{"x":-0.97,"y":-0.82},{"x":-0.9,"y":-0.88},{"x":-0.84,"y":-0.82},{"x":-0.78,"y":-0.88},{"x":-0.72,"y":-0.82},{"x":-0.66,"y":-0.88},{"x":-0.6,"y":-0.82},{"x":-0.54,"y":-0.88},{"x":-0.48,"y":-0.82},{"x":-0.42,"y":-0.88},{"x":-0.36,"y":-0.82},{"x":-0.3,"y":-0.88},{"x":-0.24,"y":-0.82},{"x":-0.18,"y":-0.88},{"x":-0.12,"y":-0.82},{"x":-0.06,"y":-0.88},{"x":0.0,"y":-0.82},{"x":0.06,"y":-0.88},{"x":0.12,"y":-0.82},{"x":0.18,"y":-0.88},{"x":0.24,"y":-0.82},{"x":0.3,"y":-0.88},{"x":0.36,"y":-0.82},{"x":0.42,"y":-0.88},{"x":0.48,"y":-0.82},{"x":0.54,"y":-0.88},{"x":0.61,"y":-0.82},{"x":0.68,"y":-0.88},{"x":0.76,"y":-0.82},
{"x":-0.91,"y":-1.22},{"x":-0.85,"y":-1.28},{"x":-0.79,"y":-1.22},{"x":-0.73,"y":-1.28},{"x":-0.67,"y":-1.22},{"x":-0.61,"y":-1.28},{"x":-0.55,"y":-1.22},{"x":-0.49,"y":-1.28},{"x":-0.43,"y":-1.22},{"x":-0.37,"y":-1.28},{"x":-0.31,"y":-1.22},{"x":-0.25,"y":-1.28},{"x":-0.19,"y":-1.22},{"x":-0.13,"y":-1.28},{"x":-0.07,"y":-1.22},{"x":-0.01,"y":-1.28},{"x":0.05,"y":-1.22},{"x":0.11,"y":-1.28},{"x":0.17,"y":-1.22},{"x":0.23,"y":-1.28},{"x":0.29,"y":-1.22},{"x":0.35,"y":-1.28},{"x":0.41,"y":-1.22},{"x":0.47,"y":-1.28},{"x":0.54,"y":-1.22},{"x":0.62,"y":-1.28},
{"x":-0.85,"y":-1.62},{"x":-0.78,"y":-1.68},{"x":-0.72,"y":-1.62},{"x":-0.66,"y":-1.68},{"x":-0.6,"y":-1.62},{"x":-0.54,"y":-1.68},{"x":-0.48,"y":-1.62},{"x":-0.42,"y":-1.68},{"x":-0.36,"y":-1.62},{"x":-0.3,"y":-1.68},{"x":-0.24,"y":-1.62},{"x":-0.17,"y":-1.68},{"x":-0.1,"y":-1.62},{"x":-0.03,"y":-1.68},{"x":0.04,"y":-1.62},{"x":0.1,"y":-1.68},{"x":0.16,"y":-1.62},{"x":0.22,"y":-1.68},{"x":0.28,"y":-1.62},{"x":0.35,"y":-1.68},{"x":0.42,"y":-1.62},{"x":0.49,"y":-1.68},
{"x":-0.79,"y":-2.02},{"x":-0.72,"y":-2.08},{"x":-0.66,"y":-2.02},{"x":-0.6,"y":-2.08},{"x":-0.54,"y":-2.02},{"x":-0.48,"y":-2.08},{"x":-0.42,"y":-2.02},{"x":-0.36,"y":-2.08},{"x":-0.3,"y":-2.02},{"x":-0.23,"y":-2.08},{"x":-0.14,"y":-2.02},{"x":-0.04,"y":-2.08},{"x":0.03,"y":-2.02},{"x":0.09,"y":-2.08},{"x":0.15,"y":-2.02},{"x":0.21,"y":-2.08},{"x":0.27,"y":-2.02},{"x":0.34,"y":-2.08},{"x":0.41,"y":-2.02},
{"x":-0.74,"y":-2.42},{"x":-0.68,"y":-2.48},{"x":-0.62,"y":-2.42},{"x":-0.56,"y":-2.48},{"x":-0.5,"y":-2.42},{"x":-0.44,"y":-2.48},{"x":-0.38,"y":-2.42},{"x":-0.31,"y":-2.48},{"x":-0.22,"y":-2.42},{"x":0.01,"y":-2.48},{"x":0.07,"y":-2.42},{"x":0.13,"y":-2.48},{"x":0.19,"y":-2.42},{"x":0.25,"y":-2.48},{"x":0.32,"y":-2.42},{"x":0.38,"y":-2.48},
{"x":-0.7,"y":-2.82},{"x":-0.64,"y":-2.88},{"x":-0.58,"y":-2.82},{"x":-0.52,"y":-2.88},{"x":-0.46,"y":-2.82},{"x":-0.4,"y":-2.88},{"x":-0.34,"y":-2.82},{"x":-0.28,"y":-2.88},{"x":0.0,"y":-2.82},{"x":0.05,"y":-2.88},{"x":0.11,"y":-2.82},{"x":0.17,"y":-2.88},{"x":0.23,"y":-2.82},{"x":0.29,"y":-2.88},
{"x":-0.66,"y":-3.22},{"x":-0.6,"y":-3.28},{"x":-0.54,"y":-3.22},{"x":-0.48,"y":-3.28},{"x":-0.41,"y":-3.22},{"x":-0.34,"y":-3.28},{"x":0.03,"y":-3.22},{"x":0.08,"y":-3.28},{"x":0.14,"y":-3.22},{"x":0.2,"y":-3.28},{"x":0.25,"y":-3.22},
{"x":-0.62,"y":-3.62},{"x":-0.55,"y":-3.68},{"x":-0.49,"y":-3.62},{"x":-0.43,"y":-3.68},{"x":0.06,"y":-3.62},{"x":0.12,"y":-3.68},{"x":0.18,"y":-3.62},
{"x":-0.57,"y":-4.05},{"x":-0.5,"y":-4.1},{"x":-0.43,"y":-4.05}
],
"a3_sig": [
{"x":-1.68,"y":-18.34},{"x":-2.06,"y":-15.45},{"x":-1.72,"y":-15.12},{"x":-0.95,"y":-15.91},{"x":-0.72,"y":-14.89},{"x":-1.25,"y":-14.43},{"x":-2.92,"y":-8.17},{"x":-1.86,"y":-10.09},{"x":-1.45,"y":-9.78},{"x":-1.23,"y":-9.86},{"x":-0.72,"y":-10.96},{"x":-0.75,"y":-8.89},{"x":-0.75,"y":-8.05},{"x":-0.92,"y":-7.66},{"x":-0.8,"y":-7.08},{"x":-0.74,"y":-7.31},{"x":-1.09,"y":-7.84},{"x":-1.43,"y":-6.69},{"x":-1.26,"y":-6.36},{"x":-1.02,"y":-6.44},{"x":-0.82,"y":-5.77},{"x":-0.81,"y":-5.57},{"x":-0.72,"y":-5.77},{"x":-0.91,"y":-5.06},{"x":-0.82,"y":-5.19},{"x":-2.39,"y":-4.98},{"x":-2.31,"y":-4.34},{"x":-1.91,"y":-5.21},{"x":-1.73,"y":-5.31},{"x":-1.71,"y":-5.39},{"x":-1.49,"y":-5.19},{"x":-1.15,"y":-4.98},{"x":-1.07,"y":-4.34},{"x":-2.71,"y":-3.35},{"x":-2.53,"y":-2.89},{"x":-2.46,"y":-2.53},{"x":-2.33,"y":-2.43},{"x":-2.42,"y":-2.09},{"x":-2.06,"y":-2.58},{"x":-2.04,"y":-2.86},{"x":-2.03,"y":-1.86},{"x":-1.93,"y":-2.35},{"x":-2.08,"y":-1.56},{"x":-2.61,"y":-1.4},{"x":-2.55,"y":-1.4},{"x":-1.61,"y":-2.81},{"x":-1.58,"y":-2.55},{"x":-1.51,"y":-2.89},{"x":-1.53,"y":-3.52},{"x":-1.38,"y":-3.27},{"x":-1.35,"y":-3.65},{"x":-1.3,"y":-4.04},{"x":-1.56,"y":-1.48},{"x":-1.49,"y":-1.23},{"x":-1.33,"y":-2.2},{"x":-1.27,"y":-2.09},{"x":-1.33,"y":-1.74},{"x":-1.23,"y":-1.4},{"x":-1.16,"y":-3.14},{"x":-1.15,"y":-2.76},{"x":-1.02,"y":-2.45},{"x":-0.99,"y":-3.78},{"x":-0.98,"y":-3.4},{"x":-1.15,"y":-1.61},{"x":-1.06,"y":-2.25},{"x":-1.01,"y":-1.86},{"x":-0.94,"y":-2.63},{"x":-0.86,"y":-2.76},{"x":-0.84,"y":-2.38},{"x":-0.79,"y":-2.89},{"x":-0.74,"y":-2.5},{"x":-0.89,"y":-1.99},{"x":-0.82,"y":-2.12},{"x":-0.94,"y":-1.48},{"x":-0.86,"y":-1.35},{"x":-0.77,"y":-1.61},{"x":-0.73,"y":-2.25},{"x":-1.03,"y":-1.35},
{"x":0.8,"y":-18.54},{"x":0.85,"y":-12.59},{"x":0.93,"y":-12.59},{"x":0.68,"y":-8.61},{"x":1.13,"y":-8.45},{"x":1.39,"y":-8.38},{"x":2.3,"y":-8.53},{"x":1.04,"y":-7.84},{"x":1.51,"y":-7.77},{"x":0.85,"y":-7.05},{"x":0.76,"y":-6.21},{"x":0.82,"y":-6.21},{"x":1.03,"y":-6.13},{"x":0.8,"y":-5.82},{"x":1.58,"y":-5.67},{"x":1.83,"y":-5.67},{"x":2.08,"y":-5.52},{"x":1.95,"y":-5.06},{"x":1.96,"y":-4.93},{"x":2.11,"y":-4.5},{"x":2.1,"y":-4.04},{"x":0.54,"y":-5.06},{"x":0.6,"y":-4.9},{"x":0.7,"y":-4.8},{"x":0.76,"y":-4.73},{"x":0.86,"y":-5.19},{"x":0.9,"y":-4.6},{"x":0.95,"y":-4.55},{"x":1.01,"y":-4.6},{"x":1.1,"y":-4.88},{"x":1.32,"y":-5.19},{"x":1.36,"y":-4.73},{"x":1.47,"y":-4.67},{"x":0.6,"y":-4.21},{"x":0.73,"y":-4.04},{"x":0.8,"y":-3.78},{"x":0.92,"y":-4.24},{"x":1.26,"y":-4.04},{"x":1.38,"y":-3.73},{"x":1.57,"y":-3.98},{"x":1.7,"y":-3.98},{"x":2.64,"y":-3.27},{"x":2.34,"y":-2.89},{"x":2.79,"y":-2.5},{"x":0.5,"y":-3.91},{"x":0.61,"y":-3.52},{"x":0.65,"y":-3.27},{"x":0.75,"y":-3.78},{"x":0.85,"y":-3.4},{"x":0.92,"y":-3.47},{"x":0.99,"y":-3.14},{"x":1.06,"y":-3.4},{"x":1.13,"y":-3.27},{"x":1.19,"y":-3.32},{"x":1.09,"y":-3.01},{"x":1.04,"y":-2.63},{"x":0.97,"y":-2.63},{"x":0.87,"y":-2.89},{"x":1.33,"y":-2.63},{"x":1.27,"y":-2.45},{"x":1.42,"y":-2.12},{"x":1.51,"y":-2.04},{"x":1.65,"y":-3.14},{"x":1.72,"y":-2.81},{"x":1.76,"y":-2.76},{"x":1.81,"y":-2.38},{"x":1.87,"y":-2.38},{"x":1.84,"y":-1.48},{"x":1.79,"y":-1.35},{"x":1.64,"y":-2.12},{"x":1.76,"y":-2.04},{"x":1.62,"y":-1.35},{"x":2.26,"y":-1.99},{"x":2.35,"y":-1.94},{"x":2.61,"y":-1.4},
{"x":0.48,"y":-2.25},{"x":0.52,"y":-1.99},{"x":0.56,"y":-1.74},{"x":0.6,"y":-2.12},{"x":0.63,"y":-1.86},{"x":0.66,"y":-1.61},{"x":0.7,"y":-1.99},{"x":0.74,"y":-1.74},{"x":0.78,"y":-1.48},{"x":0.81,"y":-2.2},{"x":0.85,"y":-1.86},{"x":0.9,"y":-1.61},{"x":0.93,"y":-1.99},{"x":0.97,"y":-1.74},{"x":1.02,"y":-1.48},{"x":1.06,"y":-1.86},{"x":1.11,"y":-1.61},{"x":0.53,"y":-2.63},{"x":0.6,"y":-2.76},{"x":0.68,"y":-2.5},{"x":0.75,"y":-2.76},{"x":0.82,"y":-2.55},{"x":0.9,"y":-2.38},{"x":0.98,"y":-2.25},{"x":0.56,"y":-1.35},{"x":0.65,"y":-1.35},{"x":0.8,"y":-1.23},{"x":0.92,"y":-1.23},{"x":1.04,"y":-2.25},{"x":0.51,"y":-2.89}
]
},
"columns": 2,
"bounds": "flush",
"align": "each",
"spacing": {"row": 102, "column": 39},
"concat": [
{
 "width": 415, "height": 261,
 "title": {"text": "a", "frame": "group", "dx": -88, "offset": 14},
 "encoding": {
   "x": {"field": "x", "type": "quantitative", "scale": {"domain": [-3, 3], "nice": false, "zero": false}, "axis": {"values": [-3,-2,-1,0,1,2,3], "title": "Vehicle vs. TGFβ (log2)", "titleFontSize": 28, "labelPadding": 12, "titlePadding": 7}},
   "y": {"field": "y", "type": "quantitative", "scale": {"domain": [-20, 0], "reverse": true, "nice": false, "zero": false}, "axis": {"values": [-20,-18,-16,-14,-12,-10,-8,-6,-4,-2,0], "labelExpr": "datum.value % 10 === 0 ? datum.label : ''", "title": "p-value (log10)", "titleFontSize": 24, "labelPadding": 12, "titlePadding": 20, "titleY": 117}}
 },
 "layer": [
   {"data": {"name": "a_ns"}, "mark": {"type": "circle", "size": 16, "opacity": 1, "color": "#000000"}},
   {"data": {"name": "a_sig"}, "mark": {"type": "circle", "size": 16, "opacity": 1, "color": "#ff0000"}}
 ]
},
{
 "width": 441, "height": 261,
 "title": {"text": "b", "frame": "group", "dx": 8, "offset": 23},
 "encoding": {
   "x": {"field": "x", "type": "quantitative", "scale": {"domain": [-2.9, 2.9], "nice": false, "zero": false}, "axis": null},
   "y": {"field": "y", "type": "quantitative", "scale": {"domain": [-1.334, 2.1], "nice": false, "zero": false}, "axis": null}
 },
 "layer": [
   {"data": {"name": "venn_circles"}, "mark": {"type": "point", "shape": "circle", "filled": false, "size": 23104, "color": "#000000", "strokeWidth": 2, "opacity": 1}},
   {"data": {"name": "b_labels"}, "transform": [{"filter": "datum.role === 'set_top' || datum.role === 'unique' || datum.role === 'shared'"}], "mark": {"type": "text", "fontSize": 24}, "encoding": {"text": {"field": "label"}, "color": {"field": "role", "type": "nominal", "scale": {"domain": ["set_top", "unique", "shared"], "range": ["#000000", "#000000", "#ff0000"]}, "legend": null}}},
   {"data": {"name": "b_labels"}, "transform": [{"filter": "datum.role === 'set_left'"}], "mark": {"type": "text", "fontSize": 24, "align": "right", "color": "#000000"}, "encoding": {"text": {"field": "label"}}},
   {"data": {"name": "b_labels"}, "transform": [{"filter": "datum.role === 'set_right'"}], "mark": {"type": "text", "fontSize": 24, "align": "left", "color": "#000000"}, "encoding": {"text": {"field": "label"}}},
   {"data": {"name": "b_labels"}, "transform": [{"filter": "datum.role === 'title'"}], "mark": {"type": "text", "fontSize": 28, "color": "#000000"}, "encoding": {"text": {"field": "label"}}}
 ]
},
{
 "width": 415, "height": 261,
 "title": {"text": "a’", "frame": "group", "dx": -88, "offset": 10},
 "encoding": {
   "x": {"field": "x", "type": "quantitative", "scale": {"domain": [-3, 3], "nice": false, "zero": false}, "axis": {"values": [-3,-2,-1,0,1,2,3], "title": "Vehicle vs. SB431542 (log2)", "titleFontSize": 28, "labelPadding": 12, "titlePadding": 7}},
   "y": {"field": "y", "type": "quantitative", "scale": {"domain": [-20, 0], "reverse": true, "nice": false, "zero": false}, "axis": {"values": [-20,-18,-16,-14,-12,-10,-8,-6,-4,-2,0], "labelExpr": "datum.value % 10 === 0 ? datum.label : ''", "title": "p-value (log10)", "titleFontSize": 24, "labelPadding": 12, "titlePadding": 20, "titleY": 117}}
 },
 "layer": [
   {"data": {"name": "a2_ns"}, "mark": {"type": "circle", "size": 16, "opacity": 1, "color": "#000000"}},
   {"data": {"name": "a2_sig"}, "mark": {"type": "circle", "size": 16, "opacity": 1, "color": "#ff0000"}}
 ]
},
{
 "width": 441, "height": 266,
 "title": {"text": "b’", "frame": "group", "dx": 8, "offset": 21},
 "encoding": {
   "x": {"field": "x", "type": "quantitative", "scale": {"domain": [-2.9, 2.9], "nice": false, "zero": false}, "axis": null},
   "y": {"field": "y", "type": "quantitative", "scale": {"domain": [-1.4, 2.1], "nice": false, "zero": false}, "axis": null}
 },
 "layer": [
   {"data": {"name": "venn_circles"}, "mark": {"type": "point", "shape": "circle", "filled": false, "size": 23104, "color": "#000000", "strokeWidth": 2, "opacity": 1}},
   {"data": {"name": "b2_labels"}, "transform": [{"filter": "datum.role === 'set_top' || datum.role === 'unique' || datum.role === 'shared'"}], "mark": {"type": "text", "fontSize": 24}, "encoding": {"text": {"field": "label"}, "color": {"field": "role", "type": "nominal", "scale": {"domain": ["set_top", "unique", "shared"], "range": ["#000000", "#000000", "#ff0000"]}, "legend": null}}},
   {"data": {"name": "b2_labels"}, "transform": [{"filter": "datum.role === 'set_left'"}], "mark": {"type": "text", "fontSize": 24, "align": "right", "color": "#000000"}, "encoding": {"text": {"field": "label"}}},
   {"data": {"name": "b2_labels"}, "transform": [{"filter": "datum.role === 'set_right'"}], "mark": {"type": "text", "fontSize": 24, "align": "left", "color": "#000000"}, "encoding": {"text": {"field": "label"}}},
   {"data": {"name": "b2_labels"}, "transform": [{"filter": "datum.role === 'title'"}], "mark": {"type": "text", "fontSize": 28, "color": "#000000"}, "encoding": {"text": {"field": "label"}}}
 ]
},
{
 "width": 415, "height": 261,
 "title": {"text": "a’’", "frame": "group", "dx": -88, "offset": 8},
 "encoding": {
   "x": {"field": "x", "type": "quantitative", "scale": {"domain": [-3, 3], "nice": false, "zero": false}, "axis": {"values": [-3,-2,-1,0,1,2,3], "title": "TGFβ vs. SB431542 (log2)", "titleFontSize": 28, "labelPadding": 12, "titlePadding": 7}},
   "y": {"field": "y", "type": "quantitative", "scale": {"domain": [-20, 0], "reverse": true, "nice": false, "zero": false}, "axis": {"values": [-20,-18,-16,-14,-12,-10,-8,-6,-4,-2,0], "labelExpr": "datum.value % 10 === 0 ? datum.label : ''", "title": "p-value (log10)", "titleFontSize": 24, "labelPadding": 12, "titlePadding": 20, "titleY": 117}}
 },
 "layer": [
   {"data": {"name": "a3_ns"}, "mark": {"type": "circle", "size": 16, "opacity": 1, "color": "#000000"}},
   {"data": {"name": "a3_sig"}, "mark": {"type": "circle", "size": 16, "opacity": 1, "color": "#ff0000"}}
 ]
},
{
 "width": 441, "height": 261,
 "title": {"text": "b’’", "frame": "group", "dx": 8, "offset": 17},
 "encoding": {
   "x": {"field": "x", "type": "quantitative", "scale": {"domain": [-2.9, 2.9], "nice": false, "zero": false}, "axis": null},
   "y": {"field": "y", "type": "quantitative", "scale": {"domain": [-1.334, 2.1], "nice": false, "zero": false}, "axis": null}
 },
 "layer": [
   {"data": {"name": "venn_circles"}, "mark": {"type": "point", "shape": "circle", "filled": false, "size": 23104, "color": "#000000", "strokeWidth": 2, "opacity": 1}},
   {"data": {"name": "b3_labels"}, "transform": [{"filter": "datum.role === 'set_top' || datum.role === 'unique' || datum.role === 'shared'"}], "mark": {"type": "text", "fontSize": 24}, "encoding": {"text": {"field": "label"}, "color": {"field": "role", "type": "nominal", "scale": {"domain": ["set_top", "unique", "shared"], "range": ["#000000", "#000000", "#ff0000"]}, "legend": null}}},
   {"data": {"name": "b3_labels"}, "transform": [{"filter": "datum.role === 'set_left'"}], "mark": {"type": "text", "fontSize": 24, "align": "right", "color": "#000000"}, "encoding": {"text": {"field": "label"}}},
   {"data": {"name": "b3_labels"}, "transform": [{"filter": "datum.role === 'set_right'"}], "mark": {"type": "text", "fontSize": 24, "align": "left", "color": "#000000"}, "encoding": {"text": {"field": "label"}}},
   {"data": {"name": "b3_labels"}, "transform": [{"filter": "datum.role === 'title'"}], "mark": {"type": "text", "fontSize": 28, "color": "#000000"}, "encoding": {"text": {"field": "label"}}}
 ]
}
]
}
